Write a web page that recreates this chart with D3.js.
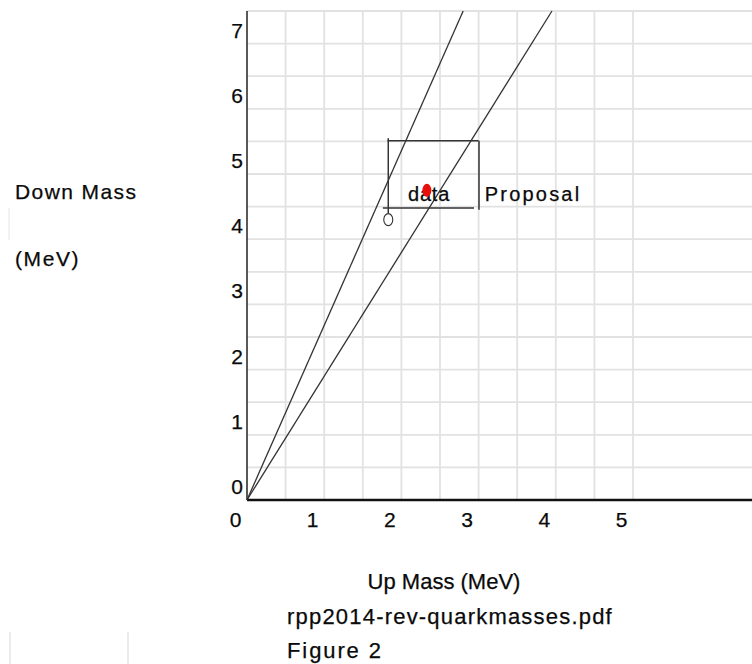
<!DOCTYPE html>
<html>
<head>
<meta charset="utf-8">
<script src="https://cdn.jsdelivr.net/npm/d3@7"></script>
<style>
  html, body { margin: 0; padding: 0; background: #fff; }
  svg text { font-family: "Liberation Sans", Arial, sans-serif; fill: #0a0a0a; stroke: #0a0a0a; stroke-width: 0.25; }
</style>
</head>
<body>
<svg id="chart" width="752" height="664"></svg>
<script>
// ---- data ----
const xTicks = [0, 1, 2, 3, 4, 5];
const yTicks = [0, 1, 2, 3, 4, 5, 6, 7];
const xGrid = [0.5, 1, 1.5, 2, 2.5, 3, 3.5, 4, 4.5, 5];
const yGrid = [0.5, 1, 1.5, 2, 2.5, 3, 3.5, 4, 4.5, 5, 5.5, 6, 6.5, 7, 7.5];
// ratio lines md = k * mu (through origin)
const ratioLineSteep = [[0, 0], [2.8, 7.5]];
const ratioLineShallow = [[0, 0], [3.95, 7.5]];
// error bracket around the data point
const boxTop = [[1.82, 5.51], [3.0, 5.51]];
const boxLeft = [[1.83, 5.55], [1.83, 4.40]];
const boxBottom = [[1.76, 4.48], [2.94, 4.48]];
const boxRight = [[3.005, 5.51], [3.005, 4.45]];
const dataPoint = [2.33, 4.75];
const proposalPoint = [1.83, 4.30];
const labelData = { text: "data", mu: 2.085, md: 4.59 };
const labelProposal = { text: "Proposal", mu: 3.08, md: 4.58 };

const svg = d3.select("#chart");
const x = d3.scaleLinear().domain([0, 5]).range([247, 633]);
const y = d3.scaleLinear().domain([0, 7.5]).range([500, 11]);
const xRight = 752;

// grid
svg.append("g").selectAll("line").data(yGrid).join("line")
  .attr("x1", x(0)).attr("x2", xRight)
  .attr("y1", d => y(d)).attr("y2", d => y(d))
  .attr("stroke", "#e2e2e2").attr("stroke-width", 1.8);
svg.append("g").selectAll("line").data(xGrid).join("line")
  .attr("x1", d => x(d)).attr("x2", d => x(d))
  .attr("y1", y(0)).attr("y2", y(7.5))
  .attr("stroke", "#e2e2e2").attr("stroke-width", 1.8);

// axes lines
svg.append("line").attr("x1", x(0)).attr("x2", x(0)).attr("y1", y(7.5)).attr("y2", y(0))
  .attr("stroke", "#222").attr("stroke-width", 1.5);
svg.append("line").attr("x1", x(0)).attr("x2", xRight).attr("y1", y(0)).attr("y2", y(0))
  .attr("stroke", "#111").attr("stroke-width", 2.6);

// tick labels
svg.append("g").selectAll("text").data(xTicks).join("text")
  .attr("x", d => x(d) - 11.5).attr("y", y(0) + 27)
  .attr("text-anchor", "middle").attr("font-size", 21).text(d => d);
svg.append("g").selectAll("text").data(yTicks).join("text")
  .attr("x", 243).attr("y", d => y(d) - 6)
  .attr("text-anchor", "end").attr("font-size", 21).text(d => d);

// ratio lines
const line = d3.line().x(d => x(d[0])).y(d => y(d[1]));
[ratioLineSteep, ratioLineShallow].forEach(l => {
  svg.append("path").attr("d", line(l)).attr("fill", "none")
    .attr("stroke", "#333").attr("stroke-width", 1.3);
});

// bracket
[boxTop, boxLeft, boxBottom, boxRight].forEach(l => {
  svg.append("path").attr("d", line(l)).attr("fill", "none")
    .attr("stroke", "#333").attr("stroke-width", 1.5);
});

// labels
svg.append("text").attr("x", x(labelData.mu)).attr("y", y(labelData.md))
  .attr("font-size", 20).attr("letter-spacing", 0.8).text(labelData.text);
svg.append("text").attr("x", x(labelProposal.mu)).attr("y", y(labelProposal.md))
  .attr("font-size", 20).attr("letter-spacing", 2.2).text(labelProposal.text);

// points
svg.append("ellipse").attr("cx", x(dataPoint[0])).attr("cy", y(dataPoint[1]))
  .attr("rx", 4.5).attr("ry", 6.5).attr("fill", "#e8100c");
svg.append("ellipse").attr("cx", x(proposalPoint[0])).attr("cy", y(proposalPoint[1]))
  .attr("rx", 4.5).attr("ry", 6).attr("fill", "none").attr("stroke", "#333").attr("stroke-width", 1.1);

// axis titles
svg.append("text").attr("x", 15).attr("y", 199).attr("font-size", 21).attr("letter-spacing", 1.4).text("Down Mass");
svg.append("text").attr("x", 15).attr("y", 266).attr("font-size", 21).attr("letter-spacing", 1.6).text("(MeV)");
svg.append("text").attr("x", 444).attr("y", 589).attr("text-anchor", "middle").attr("font-size", 22).attr("letter-spacing", 0).text("Up Mass (MeV)");
svg.append("text").attr("x", 287).attr("y", 624).attr("font-size", 22).attr("letter-spacing", 1.2).text("rpp2014-rev-quarkmasses.pdf");
svg.append("text").attr("x", 287).attr("y", 658).attr("font-size", 22).attr("letter-spacing", 1.9).text("Figure 2");

// faint decorative lines
svg.append("line").attr("x1", 9).attr("x2", 9).attr("y1", 208).attr("y2", 240).attr("stroke", "#eee").attr("stroke-width", 1.5);
svg.append("line").attr("x1", 10).attr("x2", 10).attr("y1", 632).attr("y2", 664).attr("stroke", "#e4e4e4").attr("stroke-width", 1.5);
svg.append("line").attr("x1", 128).attr("x2", 128).attr("y1", 632).attr("y2", 664).attr("stroke", "#e4e4e4").attr("stroke-width", 1.5);
</script>
</body>
</html>
